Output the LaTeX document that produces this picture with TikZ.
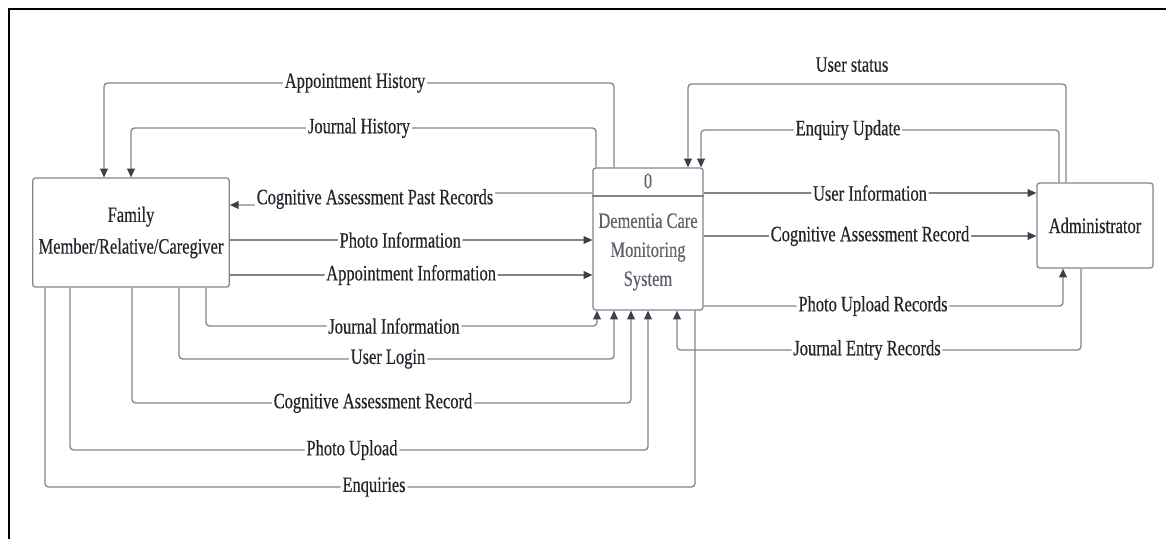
\documentclass[tikz,border=0pt]{standalone}
\usepackage{fontspec}
\setmainfont{Liberation Serif}[FakeStretch=0.75, FakeBold=0.4]
\usetikzlibrary{arrows.meta}

\definecolor{linegray}{HTML}{80858C}
\definecolor{tipdark}{HTML}{3A414C}
\definecolor{textdark}{HTML}{22262C}
\definecolor{textgray}{HTML}{5E636B}

\begin{document}
\begin{tikzpicture}[x=0.02cm, y=-0.02cm,
    entity/.style = {rectangle, draw=linegray, line width=0.7pt, rounded corners=1.5pt, text=textdark, align=center},
    flow/.style = {draw=linegray, line width=0.75pt, rounded corners=2pt},
    flowlabel/.style = {fill=white, text=textdark, inner xsep=1pt, inner ysep=0.5pt},
    >={Triangle[length=5pt, width=4.4pt, color=tipdark]},
    font=\fontsize{12.5pt}{18pt}\selectfont]
  \useasboundingbox (0, 0) rectangle (1166, 539);

  % Frame.
  \draw [line width=1.3pt] (9, 539) -- (9, 9) -- (1166, 9);

  % Entities and process.
  \node at (131, 232.5) [entity, minimum width=3.92cm, minimum height=2.18cm, name=Family] {Family\\Member/Relative/Caregiver};
  \node at (648, 239) [entity, minimum width=2.2cm, minimum height=2.84cm, name=Dcms] {};
  \node at (1095, 225.5) [entity, minimum width=2.32cm, minimum height=1.7cm, name=Administrator] {Administrator};

  % Process header and name.
  \draw [linegray, line width=0.7pt] (Dcms.west |- 0,196) -- (Dcms.east |- 0,196);
  \node at (648, 181) [text=textgray, name=DcmsId] {0};
  \node at (648, 252) [text=textgray, align=center, font=\fontsize{12.5pt}{16.5pt}\selectfont, name=DcmsName] {Dementia Care\\Monitoring\\System};

  % From the system to the family member.
  \draw [flow, ->] (Dcms.north -| 614,0)
                   |- (355, 83) node [flowlabel] {Appointment History}
                   -| (Family.north -| 104,0);
  \draw [flow, ->] (Dcms.north -| 596,0)
                   |- (359, 128) node [flowlabel] {Journal History}
                   -| (Family.north -| 131,0);
  \draw [flow, ->] (Dcms.west |- 0,193)
                   -| (375, 199) node [flowlabel] {Cognitive Assessment Past Records}
                   |- (Family.east |- 0,205);

  % From the family member to the system.
  \draw [flow, ->] (Family.east |- 0,240)
                   to node [flowlabel, pos=0.47] {Photo Information}
                   (Dcms.west |- 0,240);
  \draw [flow, ->] (Family.east |- 0,275)
                   to node [flowlabel] {Appointment Information}
                   (Dcms.west |- 0,275);
  \draw [flow, ->] (Family.south -| 206,0)
                   |- (394, 326) node [flowlabel] {Journal Information}
                   -| (Dcms.south -| 597,0);
  \draw [flow, ->] (Family.south -| 179,0)
                   |- (388, 359) node [flowlabel] {User Login}
                   -| (Dcms.south -| 614,0);
  \draw [flow, ->] (Family.south -| 132,0)
                   |- (373, 403) node [flowlabel] {Cognitive Assessment Record}
                   -| (Dcms.south -| 631,0);
  \draw [flow, ->] (Family.south -| 70,0)
                   |- (352, 450) node [flowlabel] {Photo Upload}
                   -| (Dcms.south -| 648,0);
  \draw [flow] (Family.south -| 45,0)
               |- (374, 487) node [flowlabel] {Enquiries}
               -| (Dcms.south -| 695,0);

  % From the system to the administrator.
  \draw [flow, ->] (Dcms.east |- 0,193)
                   to node [flowlabel] {User Information}
                   (Administrator.west |- 0,193);
  \draw [flow, ->] (Dcms.east |- 0,236)
                   to node [flowlabel] {Cognitive Assessment Record}
                   (Administrator.west |- 0,236);
  \draw [flow, ->] (Dcms.east |- 0,306)
                   -- (873, 306) node [flowlabel] {Photo Upload Records}
                   -| (Administrator.south -| 1063,0);

  % From the administrator to the system.
  \draw [flow, ->] (Administrator.south -| 1081,0)
                   |- (867, 350) node [flowlabel] {Journal Entry Records}
                   -| (Dcms.south -| 677,0);
  \draw [flow, ->] (Administrator.north -| 1066,0)
                   |- (852, 84) node [flowlabel, fill=none, above=6pt] {User status}
                   -| (Dcms.north -| 688,0);
  \draw [flow, ->] (Administrator.north -| 1059,0)
                   |- (848, 130) node [flowlabel] {Enquiry Update}
                   -| (Dcms.north -| 701,0);
\end{tikzpicture}
\end{document}
